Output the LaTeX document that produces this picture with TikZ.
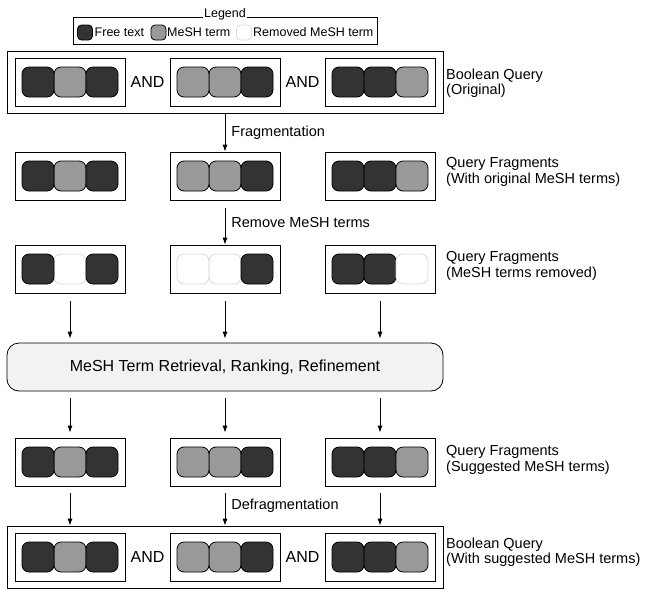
\documentclass[tikz,border=0pt]{standalone}
\usepackage{fontspec}
\setmainfont{Liberation Sans}
\usetikzlibrary{calc,arrows.meta}
\definecolor{termdark}{HTML}{333333}
\definecolor{termgray}{HTML}{999999}
\definecolor{termgone}{HTML}{DADADA}
\definecolor{stagefill}{HTML}{F2F2F2}
\tikzset{
	tile/.style={draw=black, rounded corners=7pt, minimum width=32pt, minimum height=30pt, inner sep=0pt, line width=0.8pt},
	free/.style={tile, fill=termdark},
	mesh/.style={tile, fill=termgray},
	gone/.style={tile, fill=white, draw=termgone},
	fragbox/.style={draw, minimum width=110pt, minimum height=48pt, inner sep=0pt, line width=0.8pt},
	querybox/.style={draw, minimum width=436pt, minimum height=62pt, inner sep=0pt, line width=0.8pt},
	flow/.style={line width=0.8pt, -{Latex[length=7pt,width=5pt]}},
	andlbl/.style={font=\fontsize{16}{17}\selectfont, inner sep=0pt},
	steplbl/.style={anchor=west, font=\fontsize{14.5}{15.5}\selectfont, inner sep=0pt, xshift=6pt},
	rowlbl/.style={anchor=west, align=left, font=\fontsize{14.5}{15.5}\selectfont, inner sep=0pt},
	swatch/.style={draw=black, rounded corners=4pt, minimum width=15pt, minimum height=15pt, inner sep=0pt, line width=0.8pt},
	legtxt/.style={anchor=west, font=\fontsize{12.5}{13}\selectfont, inner sep=0pt},
}
% middle tile first, so the side tiles keep their outlines
\def\fragment(#1)(#2)#3#4#5{
	\node[fragbox] (#1) at (#2) {};
	\node[#4] (#1-2) at (#1) {};
	\node[#3] (#1-1) at ($(#1)+(-32,0)$) {};
	\node[#5] (#1-3) at ($(#1)+(32,0)$) {};
}

\begin{document}
\begin{tikzpicture}[x=1pt, y=-1pt]
		%%%%% START %%%%%
		\useasboundingbox (0,0) rectangle (649,590);
		
		% legend
		\node[draw, line width=0.8pt, minimum width=304pt, minimum height=27pt] (legend) at (225,30.5) {};
		\node[fill=white, inner sep=1.5pt, anchor=base, font=\fontsize{12.5}{13}\selectfont] (legtitle) at ($(legend.north)+(0,1)$) {Legend};
		\node[swatch, fill=termdark] (sw1) at (85,32.5) {};
		\node[legtxt] (lt1) at (94.5,32.5) {Free text};
		\node[swatch, fill=termgray] (sw2) at (158.5,32.5) {};
		\node[legtxt] (lt2) at (167,32.5) {MeSH term};
		\node[swatch, fill=white, draw=termgone] (sw3) at (244,32.5) {};
		\node[legtxt] (lt3) at (253,32.5) {Removed MeSH term};
		
		% original query
		\node[querybox] (orig) at (225,82) {};
		\fragment(qa)(70,82){free}{mesh}{free}
		\fragment(qb)(225,82){mesh}{mesh}{free}
		\fragment(qc)(380,82){free}{free}{mesh}
		\node[andlbl] (and1) at (147.5,82) {AND};
		\node[andlbl] (and2) at (302.5,82) {AND};
		\node[rowlbl] (lorig) at (446,83) {Boolean Query\\(Original)};
		
		% fragments
		\fragment(fa)(70,176){free}{mesh}{free}
		\fragment(fb)(225,176){mesh}{mesh}{free}
		\fragment(fc)(380,176){free}{free}{mesh}
		\node[rowlbl] (lfrag) at (446,172) {Query Fragments\\(With original MeSH terms)};
		
		% MeSH terms removed
		\fragment(ra)(70,269){free}{gone}{free}
		\fragment(rb)(225,269){gone}{gone}{free}
		\fragment(rc)(380,269){free}{free}{gone}
		\node[rowlbl] (lrem) at (446,266) {Query Fragments\\(MeSH terms removed)};
		
		% retrieval step
		\node[draw, line width=0.8pt, rounded corners=12pt, fill=stagefill, minimum width=436pt, minimum height=48pt, font=\fontsize{16}{17}\selectfont] (stage) at (225,367) {MeSH Term Retrieval, Ranking, Refinement};
		
		% suggested
		\fragment(sa)(70,462){free}{mesh}{free}
		\fragment(sb)(225,462){mesh}{mesh}{free}
		\fragment(sc)(380,462){free}{free}{mesh}
		\node[rowlbl] (lsug) at (446,460) {Query Fragments\\(Suggested MeSH terms)};
		
		% final query
		\node[querybox] (final) at (225,557) {};
		\fragment(ea)(70,557){free}{mesh}{free}
		\fragment(eb)(225,557){mesh}{mesh}{free}
		\fragment(ec)(380,557){free}{free}{mesh}
		\node[andlbl] (and3) at (147.5,557) {AND};
		\node[andlbl] (and4) at (302.5,557) {AND};
		\node[rowlbl] (lfinal) at (446,552) {Boolean Query\\(With suggested MeSH terms)};
		
		% arrows
		\draw[flow] (orig) -- node[steplbl] {Fragmentation} (fb);
		\draw[flow, shorten <=8pt] (fb) -- node[steplbl] {Remove MeSH terms} (rb);
		\foreach \c in {a,b,c}{
			\draw[flow, shorten <=8pt, shorten >=4pt] (r\c) -- (r\c |- stage.north);
			\draw[flow, shorten <=7pt, shorten >=5pt] (stage.south -| s\c) -- (s\c);
		}
		\draw[flow, shorten <=7pt] (sa) -- (sa |- final.north);
		\draw[flow, shorten <=7pt] (sb) -- node[steplbl] {Defragmentation} (sb |- final.north);
		\draw[flow, shorten <=7pt] (sc) -- (sc |- final.north);
		%%%%% END %%%%%
\end{tikzpicture}
\end{document}
